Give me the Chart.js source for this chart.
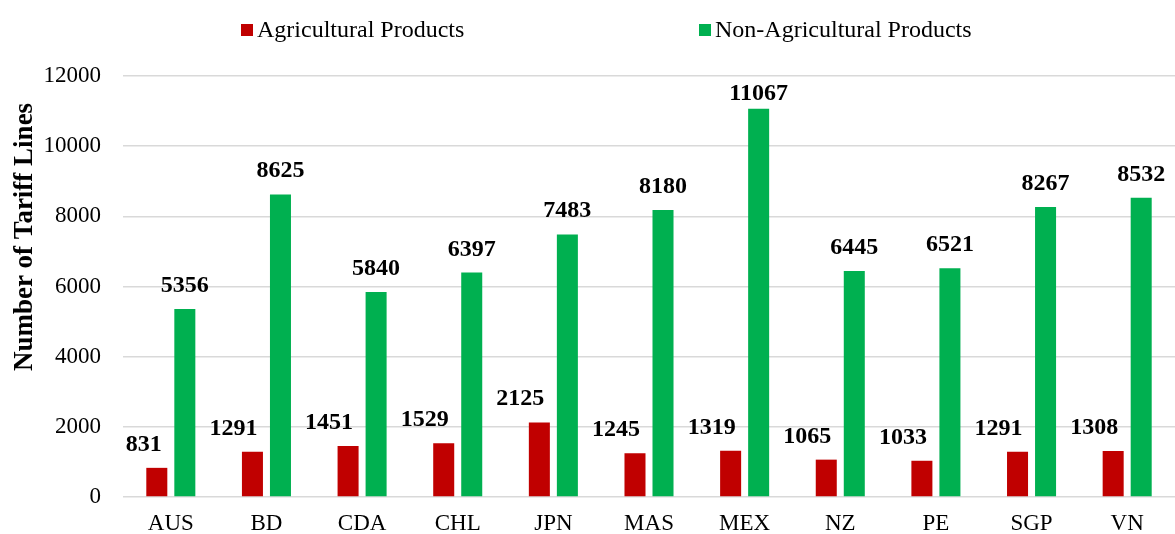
<!DOCTYPE html>
<html>
<head>
<meta charset="utf-8">
<script src="https://cdn.jsdelivr.net/npm/chart.js@4.4.1/dist/chart.umd.min.js"></script>
<style>
  html, body { margin: 0; padding: 0; background: #ffffff; }
  #wrap { width: 1175px; height: 534px; }
</style>
</head>
<body>
<div id="wrap"><canvas id="c" width="1175" height="534"></canvas></div>
<script>
const categories = ["AUS", "BD", "CDA", "CHL", "JPN", "MAS", "MEX", "NZ", "PE", "SGP", "VN"];
const agricultural = [831, 1291, 1451, 1529, 2125, 1245, 1319, 1065, 1033, 1291, 1308];
const nonAgricultural = [5356, 8625, 5840, 6397, 7483, 8180, 11067, 6445, 6521, 8267, 8532];
const seriesNames = ["Agricultural Products", "Non-Agricultural Products"];
const yTitle = "Number of Tariff Lines";

const FONT = "'Liberation Serif', 'Times New Roman', serif";
const RED = "#C00000";
const GREEN = "#00B050";

const labelPlugin = {
  id: "barLabels",
  afterDatasetsDraw(chart) {
    const ctx = chart.ctx;
    ctx.save();
    ctx.font = "bold 24px " + FONT;
    ctx.fillStyle = "#000000";
    ctx.textBaseline = "alphabetic";
    chart.data.datasets.forEach((ds, di) => {
      const meta = chart.getDatasetMeta(di);
      meta.data.forEach((bar, i) => {
        const txt = String(ds.data[i]);
        const y = Math.max(bar.y - 17, chart.chartArea.top + 24);
        if (di === 0) {
          ctx.textAlign = "right";
          ctx.fillText(txt, bar.x + 5, y);
        } else {
          ctx.textAlign = "center";
          ctx.fillText(txt, bar.x, y);
        }
      });
    });
    ctx.restore();
  }
};

const legendPlugin = {
  id: "customLegend",
  afterDraw(chart) {
    const ctx = chart.ctx;
    const items = [
      { x: 241, color: RED, text: chart.data.datasets[0].label },
      { x: 699, color: GREEN, text: chart.data.datasets[1].label }
    ];
    ctx.save();
    ctx.font = "24px " + FONT;
    ctx.textAlign = "left";
    ctx.textBaseline = "middle";
    items.forEach(it => {
      ctx.fillStyle = it.color;
      ctx.fillRect(it.x, 24, 12, 12);
      ctx.fillStyle = "#000000";
      ctx.fillText(it.text, it.x + 16, 31);
    });
    // y-axis title
    ctx.font = "bold 27px " + FONT;
    ctx.textAlign = "center";
    ctx.textBaseline = "middle";
    ctx.translate(25, 237);
    ctx.rotate(-Math.PI / 2);
    ctx.fillText(yTitle, 0, 0);
    ctx.restore();
  }
};

new Chart(document.getElementById("c"), {
  type: "bar",
  data: {
    labels: categories,
    datasets: [
      { label: seriesNames[0], data: agricultural, backgroundColor: RED, categoryPercentage: 0.586, barPercentage: 0.75 },
      { label: seriesNames[1], data: nonAgricultural, backgroundColor: GREEN, categoryPercentage: 0.586, barPercentage: 0.75 }
    ]
  },
  options: {
    responsive: false,
    animation: false,
    devicePixelRatio: 1,
    layout: { padding: { top: 76, right: 0, bottom: 0, left: 0 } },
    plugins: {
      legend: { display: false },
      tooltip: { enabled: false }
    },
    scales: {
      x: {
        grid: { display: false, drawTicks: false },
        border: { display: false },
        ticks: { color: "#000000", font: { family: FONT, size: 23 }, padding: 13 },
        afterFit(scale) { scale.height = 37; }
      },
      y: {
        min: 0,
        max: 12000,
        ticks: {
          stepSize: 2000,
          color: "#000000",
          font: { family: FONT, size: 23 },
          padding: 22,
          callback: (v) => String(v)
        },
        grid: { color: "#d9d9d9", lineWidth: 1.5, drawTicks: false },
        border: { display: false },
        title: { display: false },
        afterFit(scale) { scale.width = 123; }
      }
    }
  },
  plugins: [labelPlugin, legendPlugin]
});
</script>
</body>
</html>
